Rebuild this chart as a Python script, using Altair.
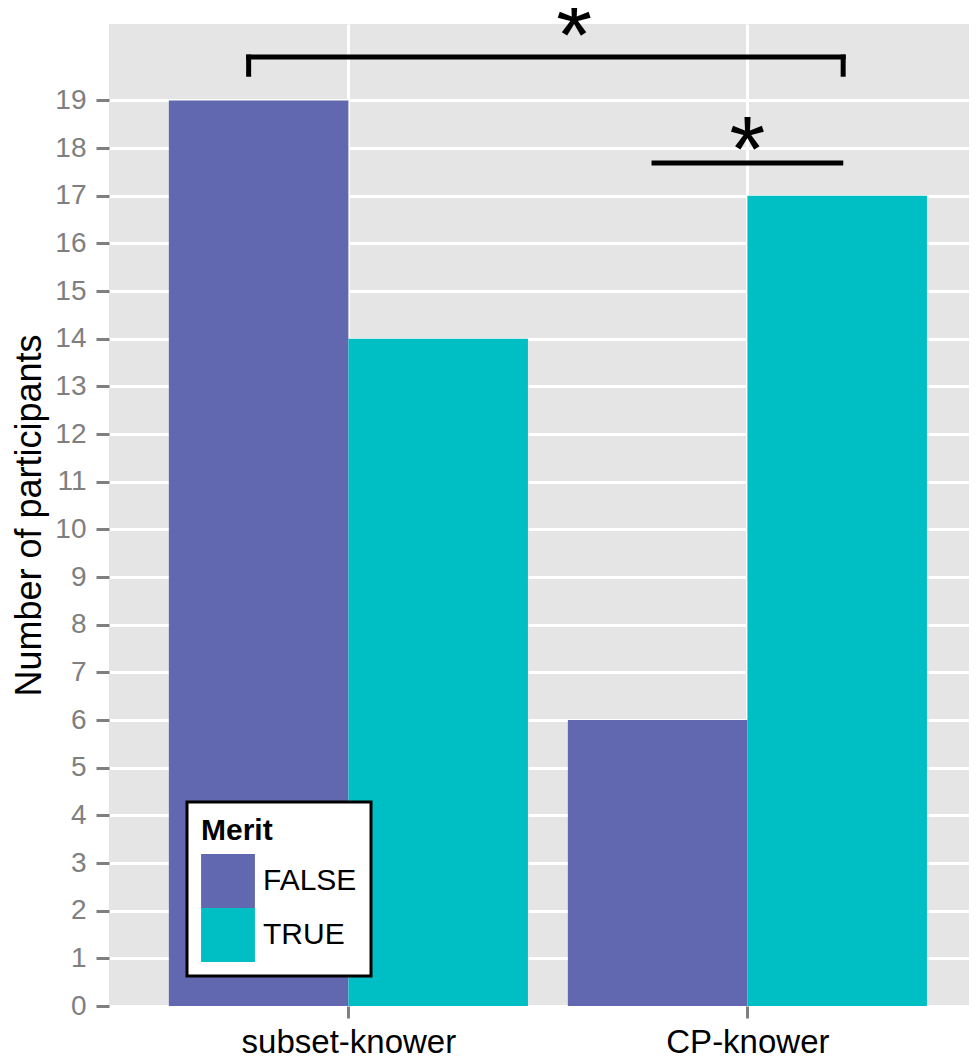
import altair as alt
import pandas as pd

# ---- data ----
groups = ["subset-knower", "CP-knower"]
merit_levels = ["FALSE", "TRUE"]
counts_false = [19, 6]
counts_true = [14, 17]
merit_colors = ["#6168AF", "#00BFC4"]

y_ticks = list(range(0, 20))

# significance annotations (data coordinates: x in group units, y in participants)
bracket_x = [0.75, 2.24]
bracket_y = 19.91
bracket_tick_y = 19.55
line2_x = [1.766, 2.234]
line2_y = 17.69
star_x = [1.566, 2.0]
star_y = [19.70, 17.32]
star_text = ["*", "*"]

# ---- build tables ----
bar_width = 0.45
rows = []
for gi, g in enumerate(groups):
    for mi, m in enumerate(merit_levels):
        val = counts_false[gi] if m == "FALSE" else counts_true[gi]
        x0 = gi + 1 + (mi - 1) * bar_width
        rows.append({"group": g, "Merit": m, "count": val, "x0": x0, "x1": x0 + bar_width})
bars_df = pd.DataFrame(rows)

seg_df = pd.DataFrame({
    "x": [bracket_x[0], bracket_x[0], bracket_x[1], line2_x[0]],
    "x2": [bracket_x[1], bracket_x[0], bracket_x[1], line2_x[1]],
    "y": [bracket_y, bracket_y, bracket_y, line2_y],
    "y2": [bracket_y, bracket_tick_y, bracket_tick_y, line2_y],
})
star_df = pd.DataFrame({"x": star_x, "y": star_y, "t": star_text})

XMIN, XMAX = 0.4, 0.4 + 860 / 399
YMAX = 982 / 47.66
xscale = alt.Scale(domain=[XMIN, XMAX], nice=False, zero=False)
yscale = alt.Scale(domain=[0, YMAX], nice=False, zero=False)

label_expr = f"datum.value == 1 ? '{groups[0]}' : '{groups[1]}'"

xaxis = alt.Axis(values=[1, 2], labelExpr=label_expr, labelFontSize=33, labelLimit=500,
                 labelOverlap=False)
yaxis = alt.Axis(values=y_ticks, labelFontSize=28, labelOverlap=False, titleFontSize=36)
YTITLE = "Number of participants"

bars = alt.Chart(bars_df).mark_bar(strokeWidth=0).encode(
    x=alt.X("x0:Q", scale=xscale, title="", axis=xaxis),
    x2="x1:Q",
    y=alt.Y("count:Q", scale=yscale, title=YTITLE, axis=yaxis),
    y2=alt.datum(0),
    color=alt.Color("Merit:N", scale=alt.Scale(domain=merit_levels, range=merit_colors),
                    legend=alt.Legend(orient="none", legendX=78, legendY=778,
                                      symbolType="square", symbolSize=2900,
                                      symbolStrokeWidth=0, title="Merit")),
)

segs = alt.Chart(seg_df).mark_rule(color="#000000", strokeWidth=5, strokeCap="square").encode(
    x=alt.X("x:Q", scale=xscale, title="", axis=xaxis),
    x2="x2:Q",
    y=alt.Y("y:Q", scale=yscale, title=YTITLE, axis=yaxis),
    y2="y2:Q",
)

stars = alt.Chart(star_df).mark_text(fontSize=92, baseline="alphabetic", align="center",
                                     color="#000000", font="Liberation Sans").encode(
    x=alt.X("x:Q", scale=xscale, title="", axis=xaxis),
    y=alt.Y("y:Q", scale=yscale, title=YTITLE, axis=yaxis),
    text="t:N",
)

chart = alt.layer(bars, segs, stars).properties(
    width=860, height=982,
    autosize=alt.AutoSizeParams(type="none"),
    padding={"left": 101, "top": 16, "right": 0, "bottom": 52},
).configure(
    font="Liberation Sans",
).configure_view(
    fill="#E5E5E5", strokeWidth=0,
).configure_axis(
    grid=True, domain=False, gridColor="#FFFFFF", gridWidth=3,
    tickWidth=3, tickColor="#7F7F7F",
).configure_axisX(
    tickSize=12, labelColor="#000000", labelFontSize=33, labelPadding=8, labelLimit=500,
).configure_axisY(
    tickSize=13, labelColor="#7F7F7F", labelFontSize=28, labelPadding=10,
    titleFontSize=36, titleFontWeight="normal", titleColor="#000000", titlePadding=6,
).configure_legend(
    fillColor="#FFFFFF", strokeColor="#000000", strokeWidth=3, padding=14,
    titleFontSize=30, titleFontWeight="bold", titleColor="#000000", titlePadding=8,
    labelFontSize=30, labelColor="#000000", labelOffset=8, rowPadding=0,
    symbolOpacity=1,
)

chart.save("out.html", embed_options={"renderer": "svg", "actions": False})
